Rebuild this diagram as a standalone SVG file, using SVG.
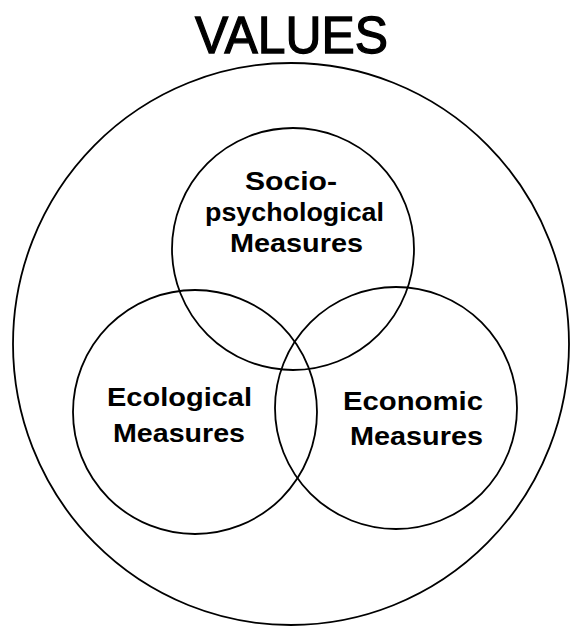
<svg xmlns="http://www.w3.org/2000/svg" width="571" height="627" viewBox="0 0 571 627">
<style>
.c{fill:none;stroke:#000;stroke-width:1.8}
.t{font-family:"Liberation Sans",Arial,sans-serif;font-size:26px;fill:#000;font-weight:bold}
.h{font-family:"Liberation Sans",Arial,sans-serif;font-size:52px;fill:#000;stroke:#000;stroke-width:1.3}
</style>
<rect width="571" height="627" fill="#fff"/>
<g id="values">
<ellipse class="c" cx="291" cy="344" rx="278" ry="281"/>
<text class="h" x="195" y="53" textLength="193" lengthAdjust="spacingAndGlyphs">VALUES</text>
</g>
<g id="socio">
<circle class="c" cx="293" cy="249" r="121"/>
<text class="t" x="245" y="190" textLength="92" lengthAdjust="spacingAndGlyphs">Socio-</text>
<text class="t" x="205" y="221" textLength="179" lengthAdjust="spacingAndGlyphs">psychological</text>
<text class="t" x="230" y="252" textLength="133" lengthAdjust="spacingAndGlyphs">Measures</text>
</g>
<g id="ecological">
<circle class="c" cx="195" cy="412" r="122"/>
<text class="t" x="107" y="406" textLength="145" lengthAdjust="spacingAndGlyphs">Ecological</text>
<text class="t" x="113" y="442" textLength="132" lengthAdjust="spacingAndGlyphs">Measures</text>
</g>
<g id="economic">
<circle class="c" cx="396" cy="408" r="121"/>
<text class="t" x="343" y="410" textLength="140" lengthAdjust="spacingAndGlyphs">Economic</text>
<text class="t" x="350" y="445" textLength="133" lengthAdjust="spacingAndGlyphs">Measures</text>
</g>
<g id="connectors"></g>
</svg>
